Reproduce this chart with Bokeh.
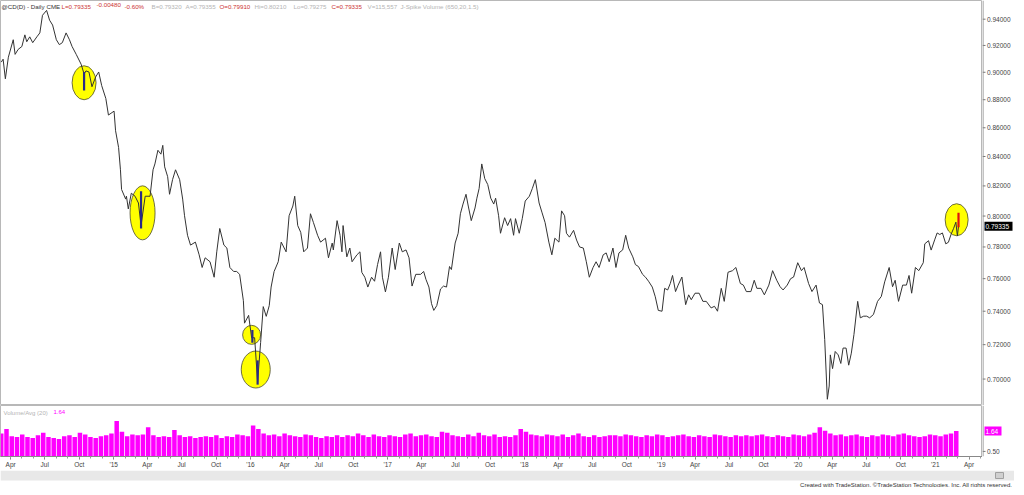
import pandas as pd
from bokeh.plotting import figure
from bokeh.layouts import column, row
from bokeh.models import (Range1d, FixedTicker, CustomJSTickFormatter, Label, Span)
from bokeh.core.properties import value
from bokeh.embed import file_html
from bokeh.resources import INLINE

# ---------------- data ----------------
price_dates = [
    "2014-03-07", "2014-03-12", "2014-03-18", "2014-03-26", "2014-04-08", "2014-04-13", "2014-04-21",
    "2014-05-01", "2014-05-09", "2014-05-14", "2014-05-22", "2014-05-30", "2014-06-10", "2014-06-18",
    "2014-06-25", "2014-07-06", "2014-07-14", "2014-07-22", "2014-08-01", "2014-08-09", "2014-08-17",
    "2014-08-27", "2014-09-05", "2014-09-12", "2014-09-23", "2014-10-06", "2014-10-14", "2014-10-19",
    "2014-10-27", "2014-11-04", "2014-11-14", "2014-11-22", "2014-11-30", "2014-12-11", "2014-12-18",
    "2015-01-02", "2015-01-06", "2015-01-14", "2015-01-19", "2015-01-22", "2015-02-02", "2015-02-04",
    "2015-02-09", "2015-02-17", "2015-02-27", "2015-03-08", "2015-03-15", "2015-03-26", "2015-04-08",
    "2015-04-16", "2015-04-21", "2015-04-29", "2015-05-07", "2015-05-12", "2015-05-17", "2015-05-25",
    "2015-05-30", "2015-06-07", "2015-06-15", "2015-06-26", "2015-07-04", "2015-07-09", "2015-07-17",
    "2015-07-25", "2015-08-07", "2015-08-17", "2015-08-25", "2015-09-02", "2015-09-15", "2015-09-26",
    "2015-10-03", "2015-10-11", "2015-10-22", "2015-10-30", "2015-11-07", "2015-11-17", "2015-11-25",
    "2015-12-03", "2015-12-13", "2015-12-16", "2015-12-27",
    "2016-01-04", "2016-01-12", "2016-01-20", "2016-01-28", "2016-02-04", "2016-02-12", "2016-02-20",
    "2016-02-25", "2016-03-04", "2016-03-15", "2016-03-23", "2016-04-05", "2016-04-13", "2016-04-23",
    "2016-04-28", "2016-05-06", "2016-05-14", "2016-05-22", "2016-06-01", "2016-06-09", "2016-06-17",
    "2016-06-28", "2016-07-06", "2016-07-19", "2016-07-27", "2016-08-06", "2016-08-09", "2016-08-19",
    "2016-08-27", "2016-09-01", "2016-09-04", "2016-09-14", "2016-09-22", "2016-09-28", "2016-10-11",
    "2016-10-19", "2016-10-24", "2016-11-01", "2016-11-09", "2016-11-19", "2016-11-27", "2016-12-05",
    "2016-12-13", "2016-12-18", "2016-12-26",
    "2017-01-03", "2017-01-13", "2017-01-21", "2017-02-01", "2017-02-09", "2017-02-19", "2017-02-27",
    "2017-03-07", "2017-03-17", "2017-03-30", "2017-04-07", "2017-04-13", "2017-04-21", "2017-04-28",
    "2017-05-04", "2017-05-12", "2017-05-22", "2017-05-30", "2017-06-07", "2017-06-15", "2017-06-20",
    "2017-06-30", "2017-07-08", "2017-07-14", "2017-07-21", "2017-07-29", "2017-08-04", "2017-08-12",
    "2017-08-22", "2017-08-27", "2017-09-02", "2017-09-09", "2017-09-17", "2017-09-25", "2017-10-03",
    "2017-10-11", "2017-10-16", "2017-10-24", "2017-10-29", "2017-11-09", "2017-11-17", "2017-11-25",
    "2017-12-03", "2017-12-08", "2017-12-18", "2017-12-26",
    "2018-01-03", "2018-01-14", "2018-01-22", "2018-01-30", "2018-02-09", "2018-02-17", "2018-02-25",
    "2018-03-07", "2018-03-15", "2018-03-23", "2018-04-03", "2018-04-10", "2018-04-18", "2018-04-23",
    "2018-05-01", "2018-05-12", "2018-05-20", "2018-05-28", "2018-06-07", "2018-06-15", "2018-06-23",
    "2018-07-03", "2018-07-11", "2018-07-19", "2018-07-30", "2018-08-07", "2018-08-15", "2018-08-25",
    "2018-09-02", "2018-09-10", "2018-09-20", "2018-09-28", "2018-10-06", "2018-10-17", "2018-10-24",
    "2018-11-01", "2018-11-12", "2018-11-20", "2018-11-28", "2018-12-08", "2018-12-16", "2018-12-24",
    "2019-01-03", "2019-01-10", "2019-01-18", "2019-01-25", "2019-01-31", "2019-02-08", "2019-02-15",
    "2019-02-25", "2019-03-07", "2019-03-15", "2019-03-22", "2019-04-01", "2019-04-12", "2019-04-22",
    "2019-05-01", "2019-05-14", "2019-05-23", "2019-05-31", "2019-06-10", "2019-06-18", "2019-06-28",
    "2019-07-10", "2019-07-19", "2019-07-31", "2019-08-08", "2019-08-16", "2019-08-28", "2019-09-06",
    "2019-09-13", "2019-09-24", "2019-10-03", "2019-10-15", "2019-10-25", "2019-11-05", "2019-11-14",
    "2019-11-22", "2019-12-03", "2019-12-12", "2019-12-20", "2019-12-31",
    "2020-01-10", "2020-01-17", "2020-01-29", "2020-02-07", "2020-02-18", "2020-02-27", "2020-03-06",
    "2020-03-12", "2020-03-19", "2020-03-24", "2020-03-27", "2020-04-02", "2020-04-09", "2020-04-17",
    "2020-04-24", "2020-04-30", "2020-05-08", "2020-05-15", "2020-05-22", "2020-05-29", "2020-06-08",
    "2020-06-15", "2020-06-24", "2020-07-02", "2020-07-10", "2020-07-20", "2020-07-31", "2020-08-10",
    "2020-08-19", "2020-08-31", "2020-09-09", "2020-09-16", "2020-09-25", "2020-10-06", "2020-10-16",
    "2020-10-23", "2020-10-30", "2020-11-09", "2020-11-18", "2020-11-30", "2020-12-04", "2020-12-14",
    "2020-12-21", "2020-12-31",
    "2021-01-06", "2021-01-13", "2021-01-20", "2021-01-29", "2021-02-05", "2021-02-12", "2021-02-19",
    "2021-02-25", "2021-03-01", "2021-03-04",
]
price_close = [
    0.9075, 0.9097, 0.8952, 0.9112, 0.9243, 0.9133, 0.9170,
    0.9192, 0.9280, 0.9228, 0.9265, 0.9221, 0.9265, 0.9295,
    0.9430, 0.9468, 0.9392, 0.9355, 0.9243, 0.9206, 0.9221,
    0.9295, 0.9243, 0.9192, 0.9133, 0.9060, 0.8988, 0.9010,
    0.9002, 0.8894, 0.8966, 0.9002, 0.8902, 0.8809, 0.8690,
    0.8718, 0.8579, 0.8463, 0.8309, 0.8176, 0.8112, 0.8131,
    0.8047, 0.8151, 0.8131, 0.8086, 0.7938, 0.8131, 0.8131,
    0.8309, 0.8349, 0.8443, 0.8416, 0.8477, 0.8329, 0.8262,
    0.8144, 0.8242, 0.8309, 0.8242, 0.8112, 0.8002, 0.7875,
    0.7812, 0.7831, 0.7750, 0.7670, 0.7731, 0.7706, 0.7609,
    0.7769, 0.7919, 0.7812, 0.7793, 0.7670, 0.7645, 0.7645,
    0.7627, 0.7464, 0.7328, 0.7375,
    0.7241, 0.7241, 0.6985, 0.7212, 0.7428, 0.7369, 0.7434,
    0.7548, 0.7645, 0.7706, 0.7831, 0.7769, 0.8002, 0.8066,
    0.8131, 0.7938, 0.7894, 0.7769, 0.7793, 0.8015, 0.7957,
    0.7875, 0.7831, 0.7856, 0.7731, 0.7825, 0.7781, 0.7970,
    0.7875, 0.7769, 0.7938, 0.7737, 0.7793, 0.7706, 0.7750,
    0.7769, 0.7639, 0.7609, 0.7548, 0.7609, 0.7584, 0.7688,
    0.7769, 0.7609, 0.7518,
    0.7609, 0.7793, 0.7657, 0.7825, 0.7769, 0.7781, 0.7731,
    0.7554, 0.7627, 0.7627, 0.7645, 0.7596, 0.7548, 0.7446,
    0.7405, 0.7434, 0.7536, 0.7554, 0.7548, 0.7676, 0.7657,
    0.7825, 0.7888, 0.8015, 0.8079, 0.8144, 0.8066, 0.7970,
    0.8053, 0.8118, 0.8183, 0.8349, 0.8249, 0.8209, 0.8118,
    0.8079, 0.8118, 0.8002, 0.7888, 0.7989, 0.7938, 0.7983,
    0.7875, 0.7983, 0.7888, 0.7983,
    0.8099, 0.8131, 0.8183, 0.8242, 0.8086, 0.8021, 0.7957,
    0.7831, 0.7750, 0.7856, 0.7831, 0.8034, 0.8002, 0.7888,
    0.7863, 0.7907, 0.7844, 0.7800, 0.7793, 0.7706, 0.7609,
    0.7670, 0.7706, 0.7670, 0.7750, 0.7762, 0.7706, 0.7793,
    0.7670, 0.7762, 0.7781, 0.7875, 0.7793, 0.7737, 0.7688,
    0.7676, 0.7627, 0.7609, 0.7584, 0.7548, 0.7488, 0.7405,
    0.7400, 0.7540, 0.7530, 0.7570, 0.7620, 0.7520, 0.7560,
    0.7610, 0.7440, 0.7500, 0.7470, 0.7510, 0.7510, 0.7460,
    0.7460, 0.7420, 0.7430, 0.7400, 0.7540, 0.7460, 0.7640,
    0.7650, 0.7670, 0.7570, 0.7560, 0.7520, 0.7520, 0.7590,
    0.7540, 0.7540, 0.7500, 0.7560, 0.7650, 0.7590, 0.7550,
    0.7530, 0.7560, 0.7600, 0.7610, 0.7700,
    0.7650, 0.7670, 0.7570, 0.7520, 0.7560, 0.7450, 0.7440,
    0.7230, 0.6885, 0.6960, 0.7140, 0.7060, 0.7160, 0.7140,
    0.7090, 0.7180, 0.7180, 0.7080, 0.7150, 0.7260, 0.7460,
    0.7360, 0.7370, 0.7370, 0.7360, 0.7380, 0.7460, 0.7490,
    0.7580, 0.7670, 0.7550, 0.7590, 0.7460, 0.7560, 0.7560,
    0.7620, 0.7510, 0.7670, 0.7650, 0.7700, 0.7820, 0.7840,
    0.7780, 0.7850,
    0.7890, 0.7880, 0.7890, 0.7820, 0.7830, 0.7880, 0.7920,
    0.7960, 0.7870, 0.79335,
]

# Volume / Avg(20), one bar every two weeks starting 2014-03-07
vol_start = "2014-03-07"
vol_ratio = [
    1.50, 1.75, 1.35, 1.30, 1.45, 1.30, 1.25, 1.40, 1.55, 1.30, 1.25, 1.20, 1.35,
    1.40, 1.30, 1.55, 1.45, 1.30, 1.25, 1.35, 1.40, 1.50, 2.20, 1.60, 1.35, 1.45,
    1.40, 1.45, 1.85, 1.40, 1.30, 1.35, 1.30, 1.70, 1.40, 1.30, 1.35, 1.25, 1.30,
    1.35, 1.30, 1.40, 1.25, 1.35, 1.30, 1.45, 1.40, 1.35, 1.95, 1.75, 1.50, 1.40,
    1.45, 1.35, 1.50, 1.40, 1.35, 1.30, 1.45, 1.40, 1.30, 1.25, 1.35, 1.30, 1.40,
    1.30, 1.40, 1.35, 1.50, 1.40, 1.30, 1.45, 1.35, 1.30, 1.40, 1.35, 1.30, 1.45,
    1.50, 1.35, 1.40, 1.45, 1.35, 1.30, 1.60, 1.55, 1.40, 1.35, 1.30, 1.45, 1.35,
    1.55, 1.40, 1.35, 1.45, 1.30, 1.35, 1.30, 1.40, 1.75, 1.60, 1.45, 1.40, 1.35,
    1.45, 1.40, 1.35, 1.45, 1.30, 1.40, 1.50, 1.35, 1.30, 1.40, 1.30, 1.35, 1.40,
    1.40, 1.35, 1.45, 1.40, 1.35, 1.30, 1.40, 1.35, 1.45, 1.40, 1.30, 1.35, 1.40,
    1.45, 1.35, 1.30, 1.40, 1.35, 1.30, 1.45, 1.40, 1.35, 1.30, 1.40, 1.35, 1.40,
    1.35, 1.40, 1.45, 1.35, 1.30, 1.40, 1.35, 1.30, 1.45, 1.40, 1.35, 1.45, 1.55,
    1.85, 1.65, 1.50, 1.40, 1.45, 1.35, 1.40, 1.45, 1.35, 1.30, 1.40, 1.35, 1.45,
    1.40, 1.35, 1.45, 1.50, 1.40, 1.35, 1.30, 1.35, 1.45, 1.40, 1.35, 1.45, 1.50,
    1.64,
]

price_ticks = [0.70, 0.72, 0.74, 0.76, 0.78, 0.80, 0.82, 0.84, 0.86, 0.88, 0.90, 0.92, 0.94]
vol_ticks = [0.50]
last_close = 0.79335
last_vol = 1.64

# highlighted spots (yellow rings) and the bars inside them
ring_dates = ["2014-10-14", "2015-03-19", "2016-01-04", "2016-01-15", "2021-02-27"]
ring_price = [0.8923, 0.8021, 0.7258, 0.7055, 0.7976]
bar_dates = ["2014-10-14", "2015-03-15", "2016-01-06", "2016-01-20"]
bar_high = [0.9002, 0.8164, 0.7287, 0.7108]
bar_low = [0.8866, 0.7919, 0.7212, 0.6968]
last_date = "2021-03-04"
last_high, last_low = 0.80210, 0.79275

header = [
    ("@CD(D) - Daily", "#333333"), ("CME", "#333333"), ("L=0.79335", "#cc3333"),
    ("-0.00480", "#cc3333"), ("-0.60%", "#cc3333"), ("B=0.79320", "#b4b4b4"),
    ("A=0.79355", "#b4b4b4"), ("O=0.79910", "#cc3333"), ("Hi=0.80210", "#b4b4b4"),
    ("Lo=0.79275", "#b4b4b4"), ("C=0.79335", "#cc3333"), ("V=115,557", "#b4b4b4"),
    ("J-Spike Volume (650,20,1.5)", "#b4b4b4"),
]
header_x = [1, 46, 61, 96, 124, 151, 185, 219, 254, 293, 331, 367, 400]

# ---------------- layout ----------------
W = 1014
RB = 32
FW = W - RB
FONT = "Liberation Sans"
FS = "6.5px"
PH = 405
VH = 65
XB = 14
AXC = "#888888"
LBC = "#444444"


def side_axis(y_range, log, ticks, fmt, height, bottom, box_val, box_txt, box_bg, box_w):
    a = figure(width=RB, height=height, x_range=Range1d(0, RB), y_range=y_range,
               y_axis_type="log" if log else "linear",
               x_axis_location=None, y_axis_location=None,
               toolbar_location=None, output_backend="svg",
               min_border_left=0, min_border_right=0, min_border_top=0,
               min_border_bottom=bottom)
    a.grid.visible = False
    a.outline_line_color = None
    a.add_layout(Span(location=0.5, dimension="height", line_color=AXC, line_width=1))
    a.segment(x0=[0] * len(ticks), x1=[3] * len(ticks), y0=ticks, y1=ticks,
              line_color="#777777", line_width=1)
    a.text(x=[4.5] * len(ticks), y=ticks, text=[fmt % t for t in ticks],
           text_font=value(FONT), text_font_size=value(FS), text_color=LBC,
           text_baseline="middle", text_align="left")
    a.rect(x=[2 + box_w / 2], y=[box_val], width=[box_w], height=[9], height_units="screen",
           fill_color=box_bg, line_color=None)
    a.text(x=[3], y=[box_val], text=[box_txt], text_font=value(FONT),
           text_font_size=value(FS), text_color="white",
           text_baseline="middle", text_align="left")
    return a


pd_dates = pd.to_datetime(price_dates)
n = min(len(pd_dates), len(price_close))
x_range = Range1d(pd.Timestamp("2014-03-05"), pd.Timestamp("2021-05-07"))
p_yr = Range1d(0.6850, 0.9545)

p = figure(width=FW, height=PH, x_axis_type="datetime", y_axis_type="log",
           x_range=x_range, y_range=p_yr, x_axis_location=None, y_axis_location=None,
           toolbar_location=None, output_backend="svg", min_border=0)
p.grid.visible = False
p.outline_line_color = "#b8b8b8"

ring_w = [24, 25, 18, 29, 23]
ring_h = [34, 54, 19, 37, 32]
p.ellipse(x=pd.to_datetime(ring_dates), y=ring_price, width=ring_w, height=ring_h,
          width_units="screen", height_units="screen",
          fill_color="#ffff00", line_color="#4a4a30", line_width=0.8)
p.line(pd_dates[:n], price_close[:n], line_color="#333333", line_width=1)
p.segment(x0=pd.to_datetime(bar_dates), y0=bar_low, x1=pd.to_datetime(bar_dates), y1=bar_high,
          line_color="#2a2a88", line_width=2.2)
p.segment(x0=[pd.Timestamp(last_date)], y0=[last_low], x1=[pd.Timestamp(last_date)], y1=[last_high],
          line_color="#e01010", line_width=2.2)

for (txt, col), hx in zip(header, header_x):
    p.add_layout(Label(x=hx, y=PH - 2, x_units="screen", y_units="screen", text=txt,
                       text_color=col, text_font=FONT, text_font_size="6.2px",
                       text_baseline="top", text_align="left"))

pa = side_axis(p_yr, True, price_ticks, "%.5f", PH, 0, last_close, "%.5f" % last_close, "black", 28)

# ---------------- volume panel ----------------
VLO, VHI = 0.215, 3.07
v_yr = Range1d(VLO, VHI)
vdates = pd.date_range(vol_start, periods=len(vol_ratio), freq="14D")
v = figure(width=FW, height=VH, x_axis_type="datetime", x_range=x_range,
           y_range=v_yr, y_axis_location=None,
           toolbar_location=None, output_backend="svg",
           min_border_left=0, min_border_top=0, min_border_right=0, min_border_bottom=XB)
v.grid.visible = False
v.outline_line_color = "#b8b8b8"
v.vbar(x=vdates, top=vol_ratio, bottom=VLO - 1.0, width=12 * 86400000,
       fill_color="#ff00ff", line_color=None)

quarters = pd.date_range("2014-04-01", "2021-04-01", freq="QS")
months = pd.date_range("2014-03-01", "2021-05-01", freq="MS")
xa = v.xaxis[0]
xa.ticker = FixedTicker(ticks=[t.value / 1e6 for t in quarters],
                        minor_ticks=[t.value / 1e6 for t in months])
xa.formatter = CustomJSTickFormatter(code="""
const d = new Date(tick);
const m = d.getUTCMonth();
const names = ["Jan","Feb","Mar","Apr","May","Jun","Jul","Aug","Sep","Oct","Nov","Dec"];
if (m == 0) { return "'" + String(d.getUTCFullYear()).slice(2); }
return names[m];
""")
xa.major_label_text_font = FONT
xa.major_label_text_font_size = FS
xa.major_label_text_color = LBC
xa.major_tick_in = 0
xa.major_tick_out = 3
xa.minor_tick_in = 0
xa.minor_tick_out = 2
xa.axis_line_color = AXC
xa.major_tick_line_color = "#777777"
xa.minor_tick_line_color = "#999999"
xa.major_label_standoff = 1

v.add_layout(Label(x=3, y=VH - XB - 4, x_units="screen", y_units="screen", text="Volume/Avg (20)",
                   text_color="#b4b4b4", text_font=FONT, text_font_size="6px", text_baseline="top"))
v.add_layout(Label(x=53, y=VH - XB - 4, x_units="screen", y_units="screen", text="%.2f" % last_vol,
                   text_color="#ff00ff", text_font=FONT, text_font_size="6px", text_baseline="top"))

va = side_axis(v_yr, False, vol_ticks, "%.2f", VH, XB, last_vol, "%.2f" % last_vol, "#ff00ff", 17)

# ---------------- bottom strip ----------------
BH = 17
b = figure(width=W, height=BH, x_range=Range1d(0, W), y_range=Range1d(0, BH),
           toolbar_location=None, output_backend="svg", min_border=0)
b.axis.visible = False
b.grid.visible = False
b.outline_line_color = None
b.quad(left=[0], right=[W], bottom=[7], top=[BH], fill_color="#e8e8e8", line_color=None)
b.quad(left=[W - 19], right=[W - 11], bottom=[9], top=[15], fill_color="#d0d0d0", line_color="#a0a0a0")
b.add_layout(Label(x=W - 2, y=0, text="Created with TradeStation. \u00a9TradeStation Technologies, Inc. All rights reserved.",
                   text_color="#333333", text_font=FONT, text_font_size="6px",
                   text_align="right", text_baseline="bottom"))

layout = column(row(p, pa, spacing=0), row(v, va, spacing=0), b, spacing=0)
open("out.html", "w").write(file_html(layout, INLINE))
